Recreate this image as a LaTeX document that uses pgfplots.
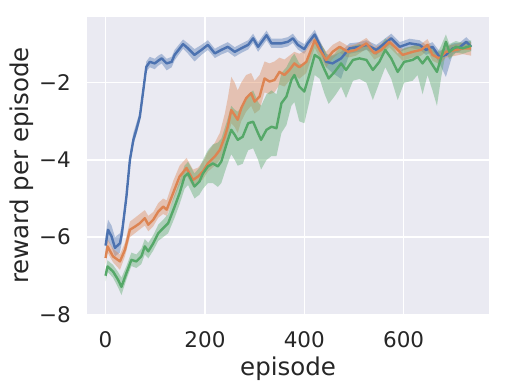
\documentclass[border=0pt]{standalone}
\usepackage{fontspec}
\setmainfont{DejaVu Sans}
\usepackage{pgfplots}
\usepackage{pgfplotstable}
\pgfplotsset{compat=1.18}
\usepgfplotslibrary{fillbetween}
\definecolor{cB}{HTML}{4C72B0}
\definecolor{cO}{HTML}{DD8452}
\definecolor{cG}{HTML}{55A868}
\definecolor{bg}{HTML}{EAEAF2}
\definecolor{txt}{HTML}{262626}

\pgfplotstableread{
x y lo hi
0 -6.22 -6.45 -5.95
5 -5.81 -6.1 -5.55
12 -5.98 -6.25 -5.7
19 -6.28 -6.5 -6.0
29 -6.16 -6.4 -5.9
33 -5.90 -6.1 -5.7
42 -4.95 -5.1 -4.8
49 -4.0 -4.15 -3.85
56 -3.48 -3.6 -3.3
62 -3.22 -3.35 -3.05
69 -2.88 -3.0 -2.75
76 -2.19 -2.3 -2.05
82 -1.59 -1.72 -1.45
89 -1.46 -1.6 -1.33
99 -1.50 -1.65 -1.38
106 -1.43 -1.56 -1.3
113 -1.37 -1.5 -1.25
123 -1.50 -1.68 -1.38
133 -1.46 -1.6 -1.33
139 -1.28 -1.42 -1.15
156 -1.00 -1.12 -0.88
166 -1.11 -1.25 -0.98
179 -1.28 -1.45 -1.13
193 -1.15 -1.28 -1.02
206 -1.02 -1.15 -0.9
220 -1.24 -1.36 -1.12
233 -1.15 -1.27 -1.03
246 -1.07 -1.2 -0.95
260 -1.20 -1.33 -1.08
273 -1.11 -1.23 -0.99
287 -1.02 -1.14 -0.9
297 -0.85 -0.97 -0.73
307 -1.07 -1.2 -0.95
324 -0.77 -0.9 -0.65
334 -0.98 -1.1 -0.86
354 -0.98 -1.1 -0.86
367 -0.94 -1.06 -0.82
377 -0.85 -0.97 -0.73
387 -1.02 -1.14 -0.9
400 -1.13 -1.25 -1.0
407 -0.98 -1.1 -0.86
421 -0.75 -0.87 -0.63
431 -1.02 -1.15 -0.9
444 -1.46 -1.6 -1.25
457 -1.50 -1.75 -1.3
474 -1.37 -1.9 -1.2
491 -1.11 -1.25 -0.98
511 -1.07 -1.2 -0.95
525 -1.02 -1.15 -0.9
545 -1.15 -1.28 -1.02
558 -1.02 -1.15 -0.9
575 -0.85 -0.98 -0.73
592 -1.07 -1.2 -0.95
612 -0.98 -1.1 -0.86
632 -1.02 -1.14 -0.9
645 -1.15 -1.28 -1.02
658 -1.07 -1.2 -0.95
672 -1.33 -1.5 -1.18
685 -1.28 -1.85 -1.1
699 -1.11 -1.25 -0.98
712 -1.09 -1.2 -0.97
726 -0.94 -1.06 -0.82
736 -1.07 -1.18 -0.95
}\blueT

\pgfplotstableread{
x y lo hi
0 -6.54 -6.7 -6.35
4 -6.24 -6.4 -6.05
15 -6.50 -6.65 -6.3
29 -6.63 -6.85 -6.45
39 -6.33 -6.5 -6.15
49 -5.81 -6.0 -5.6
59 -5.73 -5.9 -5.5
69 -5.64 -5.8 -5.4
79 -5.51 -5.7 -5.3
86 -5.68 -5.85 -5.45
96 -5.55 -5.72 -5.35
106 -5.34 -5.5 -5.12
116 -5.21 -5.4 -5.0
123 -5.29 -5.45 -5.05
136 -4.86 -5.05 -4.55
149 -4.43 -4.65 -4.15
163 -4.21 -4.4 -3.95
176 -4.52 -4.7 -4.25
186 -4.43 -4.6 -4.2
196 -4.30 -4.5 -4.05
206 -4.09 -4.3 -3.8
220 -3.91 -4.15 -3.55
230 -3.74 -4.0 -3.3
240 -3.40 -3.7 -2.8
246 -3.14 -3.45 -2.4
253 -2.71 -3.05 -1.85
260 -2.84 -3.15 -2.0
266 -2.96 -3.3 -2.2
273 -2.66 -3.0 -2.0
283 -2.40 -2.75 -1.8
293 -2.27 -2.6 -1.75
300 -2.49 -2.8 -1.95
310 -2.36 -2.7 -1.8
320 -1.89 -2.25 -1.45
330 -1.97 -2.3 -1.5
340 -1.93 -2.25 -1.45
350 -1.72 -2.05 -1.35
360 -1.80 -2.1 -1.4
370 -1.67 -1.95 -1.3
380 -1.50 -1.8 -1.2
390 -1.60 -1.9 -1.25
404 -1.46 -1.75 -1.15
421 -0.90 -1.1 -0.72
431 -1.15 -1.35 -0.95
444 -1.41 -1.6 -1.2
457 -1.20 -1.38 -1.02
471 -1.07 -1.22 -0.92
488 -1.20 -1.35 -1.05
504 -1.15 -1.3 -1.0
525 -0.98 -1.12 -0.84
541 -1.24 -1.4 -1.08
555 -1.15 -1.3 -1.0
571 -0.94 -1.08 -0.8
585 -1.11 -1.26 -0.96
598 -1.28 -1.43 -1.13
618 -1.20 -1.35 -1.05
635 -1.15 -1.3 -1.0
648 -1.02 -1.17 -0.87
658 -1.28 -1.43 -1.13
672 -1.37 -1.52 -1.22
685 -1.20 -1.35 -1.05
705 -1.15 -1.3 -1.0
719 -1.11 -1.26 -0.96
736 -1.11 -1.3 -0.95
}\orangeT

\pgfplotstableread{
x y lo hi
0 -7.00 -7.15 -6.85
4 -6.76 -6.9 -6.6
15 -6.89 -7.05 -6.72
25 -7.10 -7.3 -6.9
32 -7.29 -7.5 -7.05
42 -6.93 -7.1 -6.75
52 -6.59 -6.75 -6.4
62 -6.63 -6.8 -6.45
72 -6.50 -6.7 -6.3
79 -6.24 -6.45 -6.05
86 -6.37 -6.55 -6.15
96 -6.16 -6.35 -5.95
106 -5.90 -6.1 -5.68
116 -5.77 -6.0 -5.55
126 -5.64 -5.9 -5.4
139 -5.21 -5.5 -4.9
149 -4.86 -5.15 -4.55
159 -4.43 -4.75 -4.15
166 -4.35 -4.65 -4.05
179 -4.69 -5.0 -4.35
189 -4.56 -4.9 -4.2
196 -4.35 -4.75 -4.0
206 -4.17 -4.6 -3.75
216 -4.09 -4.6 -3.6
226 -4.17 -4.7 -3.55
233 -4.04 -4.6 -3.45
243 -3.61 -4.2 -3.05
253 -3.22 -3.85 -2.6
260 -3.35 -4.0 -2.7
266 -3.48 -4.15 -2.75
276 -3.40 -4.1 -2.6
287 -3.05 -3.75 -2.3
297 -3.01 -3.7 -2.2
307 -3.31 -4.0 -2.5
313 -3.48 -4.25 -2.6
324 -3.22 -4.0 -2.3
334 -3.14 -3.9 -2.2
344 -3.18 -3.9 -2.3
354 -2.53 -3.3 -1.75
364 -2.36 -3.1 -1.6
374 -1.93 -2.6 -1.35
380 -1.80 -2.5 -1.25
390 -2.10 -3.0 -1.5
400 -2.23 -3.05 -1.55
410 -1.80 -2.5 -1.3
421 -1.28 -1.8 -0.85
431 -1.37 -1.9 -0.95
441 -1.67 -2.3 -1.15
449 -1.89 -2.55 -1.35
461 -1.72 -2.35 -1.25
474 -1.50 -2.1 -1.05
484 -1.67 -2.4 -1.2
498 -1.41 -1.95 -1.05
511 -1.37 -1.9 -1.0
525 -1.41 -2.0 -1.05
538 -1.67 -2.45 -1.2
551 -1.46 -2.0 -1.1
563 -1.15 -1.6 -0.85
575 -1.37 -1.9 -1.0
588 -1.72 -2.45 -1.25
601 -1.46 -2.0 -1.1
618 -1.41 -1.95 -1.05
628 -1.33 -1.8 -1.0
638 -1.50 -2.3 -1.1
648 -1.33 -1.8 -1.0
658 -1.54 -2.2 -1.1
667 -1.72 -2.6 -1.25
675 -1.37 -1.9 -1.05
685 -0.94 -1.2 -0.75
692 -1.20 -1.4 -1.0
705 -1.07 -1.22 -0.92
719 -1.11 -1.25 -0.97
736 -1.04 -1.18 -0.9
}\greenT

\begin{document}
\begin{tikzpicture}
\begin{axis}[
  at={(0,0)}, anchor=south west,
  scale only axis,
  width=401.7bp, height=297.6bp,
  xmin=-36.75, xmax=771.75,
  ymin=-8, ymax=-0.29,
  axis background/.style={fill=bg},
  axis line style={draw=none},
  tick style={draw=none},
  major tick length=0pt,
  grid=major,
  major grid style={white, line width=1.3bp},
  xtick={0,200,400,600},
  xticklabels={0,200,400,600},
  ytick={-8,-6,-4,-2},
  yticklabels={−8,−6,−4,−2},
  every x tick label/.append style={font=\fontsize{21.5bp}{25bp}\selectfont, text=txt, inner sep=0pt, anchor=north, yshift=-17.4bp},
  every y tick label/.append style={font=\fontsize{21.5bp}{25bp}\selectfont, text=txt, inner sep=0pt, anchor=east, xshift=-16.3bp},
  xlabel={episode},
  ylabel={reward per episode},
  every axis x label/.style={font=\fontsize{24.5bp}{28bp}\selectfont, text=txt, inner sep=0pt, at={(axis description cs:0.5,-0.205)}, anchor=base},
  every axis y label/.style={font=\fontsize{24.5bp}{28bp}\selectfont, text=txt, inner sep=0pt, at={(axis description cs:-0.1464,0.5)}, anchor=base, rotate=90},
  clip=true,
]
\addplot[draw=none, name path=bhi, forget plot] table[x=x,y=hi]{\blueT};
\addplot[draw=none, name path=blo, forget plot] table[x=x,y=lo]{\blueT};
\addplot[fill=cB, fill opacity=0.4, draw=none, forget plot] fill between[of=bhi and blo];
\addplot[draw=none, name path=ohi, forget plot] table[x=x,y=hi]{\orangeT};
\addplot[draw=none, name path=olo, forget plot] table[x=x,y=lo]{\orangeT};
\addplot[fill=cO, fill opacity=0.4, draw=none, forget plot] fill between[of=ohi and olo];
\addplot[draw=none, name path=ghi, forget plot] table[x=x,y=hi]{\greenT};
\addplot[draw=none, name path=glo, forget plot] table[x=x,y=lo]{\greenT};
\addplot[fill=cG, fill opacity=0.4, draw=none, forget plot] fill between[of=ghi and glo];
\addplot[cB, line width=2.4bp, line join=round] table[x=x,y=y]{\blueT};
\addplot[cO, line width=2.4bp, line join=round] table[x=x,y=y]{\orangeT};
\addplot[cG, line width=2.4bp, line join=round] table[x=x,y=y]{\greenT};
\end{axis}
\pgfresetboundingbox
\path (-87.3bp,-77.7bp) rectangle (417.7bp,314.3bp);
\end{tikzpicture}
\end{document}
